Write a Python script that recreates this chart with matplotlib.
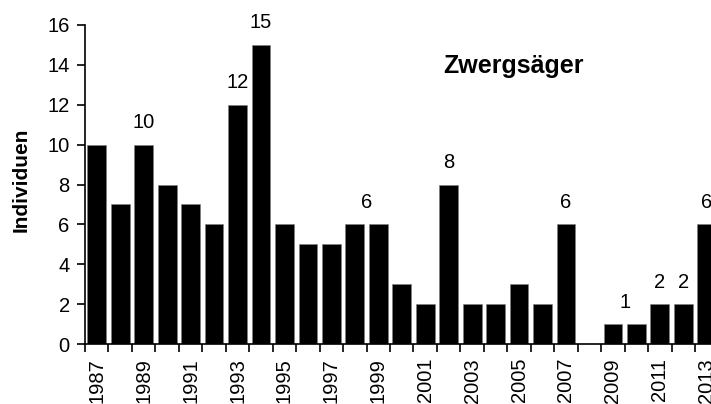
import matplotlib
matplotlib.use("Agg")
import matplotlib.pyplot as plt
import numpy as np

years = list(range(1987, 2014))
values = [10, 7, 10, 8, 7, 6, 12, 15, 6, 5, 5, 6, 6, 3, 2, 8, 2, 2, 3, 2, 6, 0, 1, 1, 2, 2, 6]
label_years = [1989, 1993, 1994, 1998.5, 2002, 2007, 2009.5, 2011, 2012, 2013]
label_values = [10, 12, 15, 6, 8, 6, 1, 2, 2, 6]
tick_label_years = list(range(1987, 2014, 2))
title_text = "Zwergsäger"
ylabel_text = "Individuen"

plt.rcParams['font.family'] = ['Liberation Sans', 'DejaVu Sans']

fig = plt.figure(figsize=(7.11, 4.04), dpi=100)
ax = fig.add_axes([85/711, 1-344/404, 633.5/711, 319/404])

ax.bar(years, values, width=0.8, color='black', edgecolor='#808080', linewidth=0.4)

for x, v in zip(label_years, label_values):
    ax.annotate(str(v), (x, v), xytext=(0, 9), textcoords='offset points',
                ha='center', va='bottom', fontsize=14.5)

ax.set_xlim(years[0]-0.5, years[-1]+0.5)
ax.set_ylim(0, 16)
ax.set_yticks(np.arange(0, 17, 2))
ax.tick_params(axis='y', labelsize=14.5, length=6, width=1.2, direction='out', pad=5)

# major ticks at category boundaries, labels on minor ticks
ax.set_xticks(np.arange(years[0]-0.5, years[-1]+1.0, 1.0))
ax.set_xticklabels([])
ax.tick_params(axis='x', which='major', length=5.5, width=1.2, direction='out')
ax.set_xticks(tick_label_years, minor=True)
ax.set_xticklabels([str(y) for y in tick_label_years], minor=True, rotation=90, fontsize=14.5)
ax.tick_params(axis='x', which='minor', length=0, pad=10)

for s in ['top', 'right']:
    ax.spines[s].set_visible(False)
ax.spines['left'].set_linewidth(1.2)
ax.spines['bottom'].set_linewidth(1.2)

ax.set_ylabel(ylabel_text, fontsize=15, fontweight='bold')
ax.yaxis.set_label_coords((31-85)/633.5, (344-180)/319)
fig.text(514/711, 1-66/404, title_text, fontsize=18, fontweight='bold', ha='center', va='center')

fig.savefig("out.png", dpi=100)
